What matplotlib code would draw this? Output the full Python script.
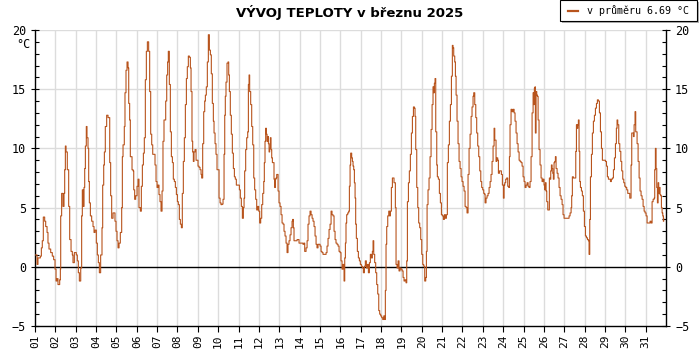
import numpy as np
import matplotlib
matplotlib.use("Agg")
import matplotlib.pyplot as plt
from matplotlib.ticker import MultipleLocator
from matplotlib.patches import Rectangle

# temperature trace for March 2025, hours since 1.3. 00:00
hours = [
    0, 2.4, 3.5, 5.5, 6.3, 7.5, 8.6, 9.8, 11.4, 12.6, 14.2, 15.3, 16.5, 18.5, 20.4, 22.0, 23.6,
    24.8, 25.9, 27.1, 29.1, 29.9, 30.3, 31.4, 33.0, 34.2, 35.0, 35.8, 36.6, 38.1, 39.7, 40.9, 42.5, 44.0, 44.8, 46.4,
    48.7, 49.9, 51.1, 52.3, 53.9, 55.0, 55.8, 57.0, 57.8, 58.6, 59.4, 60.5, 61.3, 62.5, 63.3, 64.1, 65.3, 66.8, 68.4, 69.6, 70.8,
    72.3, 73.5, 74.7, 75.9, 77.4, 79.0, 79.8, 81.0, 81.8, 82.9, 84.5, 86.1, 88.1, 89.2, 90.4, 92.0, 93.2, 94.3, 95.5,
    96.7, 97.9, 99.1, 100.6, 102.2, 103.0, 103.8, 105.3, 106.1, 107.3, 108.5, 109.7, 110.5, 111.6, 112.4, 113.6, 114.4, 115.6, 116.4, 117.5, 118.7,
    120.3, 121.5, 122.6, 124.2, 125.4, 126.6, 127.8, 128.9, 130.1, 131.3, 132.5, 134.0, 135.2, 136.4, 137.6, 138.8, 140.3, 141.5, 142.7,
    143.9, 145.0, 146.2, 147.4, 148.6, 149.8, 150.9, 152.1, 153.3, 154.1, 155.3, 156.4, 157.2, 158.4, 159.6, 160.8, 162.0, 163.1, 164.3, 165.5, 166.7,
    167.9, 169.0, 170.2, 171.4, 172.6, 173.7, 174.9, 176.1, 177.3, 178.5, 179.6, 180.8, 182.0, 183.2, 184.0, 185.1, 185.9, 186.7, 187.5, 188.7, 189.9,
    191.0, 192.2, 193.4, 194.6, 195.8, 196.5, 197.7, 198.9, 200.1, 200.9, 202.0, 203.2, 204.4, 205.6, 206.8, 207.9, 209.1, 210.3, 211.1,
    212.3, 213.4, 214.6, 215.8, 217.0, 218.2, 219.3, 220.5, 221.7, 222.9, 223.7, 224.4, 225.2, 226.4, 227.6, 228.4, 229.2, 230.3, 231.5, 232.7, 233.9,
    235.1, 236.2, 237.4, 239.8, 241.0, 242.1, 243.3, 244.5, 245.7, 246.5, 247.2, 248.4, 249.6, 250.8, 251.6, 252.4, 253.1, 254.3, 255.5, 256.7, 257.9,
    259.0, 260.2, 261.4, 262.6, 263.8, 264.9, 266.1, 267.3, 268.5, 269.7, 270.4, 271.2, 272.0, 272.8, 273.6, 274.4, 275.2, 276.0, 276.7, 277.5, 278.3,
    279.1, 279.9, 281.1, 281.8, 282.6, 283.4, 284.2, 285.0, 285.8, 286.6, 287.7, 288.9, 290.1, 291.3, 292.5, 293.6, 294.8, 296.0, 297.2, 298.3, 299.5,
    300.7, 301.9, 303.1, 303.8, 304.6, 305.4, 307.8, 309.0, 311.3, 314.9, 316.0, 317.2, 318.0, 319.6, 320.8, 321.9, 323.1, 324.3, 325.5, 326.7, 327.8,
    329.0, 330.2, 331.4, 332.5, 333.7, 334.9, 336.1, 337.3, 338.4, 339.6, 342.0, 343.2, 344.3, 345.5, 346.7, 347.9, 349.1, 350.2, 351.4, 352.6, 353.8,
    354.9, 356.1, 357.3, 358.5, 359.7, 360.8, 362.0, 363.2, 364.4, 365.2, 366.0, 366.7, 367.5, 368.7, 369.9, 370.7, 371.5, 372.2, 373.4, 374.2, 375.0,
    375.8, 376.6, 377.4, 378.1, 378.9, 380.1, 381.3, 382.5, 383.6, 384.8, 386.0, 387.2, 388.4, 389.5, 390.7, 391.9, 393.1, 394.3, 395.4, 396.6, 397.8,
    398.6, 399.4, 400.5, 401.7, 402.9, 404.1, 405.3, 406.4, 407.6, 408.8, 410.0, 411.2, 412.3, 413.1, 413.9, 414.7, 415.9, 417.1, 418.2, 419.0, 420.2,
    421.4, 422.6, 423.3, 424.1, 424.9, 425.7, 426.9, 428.1, 429.2, 430.4, 431.6, 432.8, 434.0, 435.1, 436.3, 437.5, 438.3, 439.1, 440.3, 441.4, 442.6,
    443.8, 445.0, 446.2, 447.3, 448.1, 448.9, 450.1, 451.3, 452.4, 453.6, 454.8, 456.0, 457.2, 458.3, 459.5, 460.7, 461.5, 462.3, 463.4, 464.6, 465.8,
    467.0, 468.2, 469.3, 470.1, 470.9, 471.7, 472.5, 473.7, 474.4, 475.6, 476.8, 478.0, 479.2, 480.3, 481.5, 482.7, 483.9, 485.1, 486.2, 487.4, 488.6,
    489.8, 491.0, 492.1, 492.9, 493.7, 494.9, 495.7, 496.5, 497.6, 498.8, 500.0, 501.2, 502.4, 503.5, 504.7, 505.9, 507.1, 508.3, 509.4, 510.6, 511.8,
    513.0, 514.2, 515.3, 516.5, 517.3, 518.5, 519.7, 520.8, 522.0, 523.2, 524.4, 525.6, 526.7, 527.9, 529.1, 530.3, 530.7, 531.8, 533.0, 534.2, 535.4,
    536.6, 537.7, 538.9, 540.1, 541.3, 542.1, 542.8, 543.6, 544.4, 545.6, 546.4, 547.6, 549.9, 551.1, 552.3, 553.1, 553.9, 555.0, 556.2, 557.4, 558.6,
    559.4, 560.1, 561.3, 562.5, 563.7, 564.9, 566.0, 567.2, 568.4, 569.6, 570.8, 571.9, 573.1, 574.3, 575.5, 576.7, 577.8, 579.0, 580.2, 581.4, 582.5,
    583.7, 584.9, 586.1, 587.3, 588.1, 588.8, 589.6, 590.0, 590.8, 591.6, 592.4, 593.2, 594.3, 595.5, 596.7, 597.9, 599.1, 600.2, 601.0, 601.8, 602.6,
    603.4, 604.6, 605.7, 606.5, 607.3, 608.1, 608.9, 609.7, 610.5, 611.2, 612.0, 612.8, 613.6, 614.4, 615.6, 616.7, 617.9, 619.1, 620.3, 621.5, 622.6,
    623.8, 628.5, 629.7, 630.9, 632.1, 632.8, 633.6, 634.8, 636.0, 636.8, 637.6, 638.4, 639.2, 640.0, 640.7, 641.5, 642.3, 643.1, 644.3, 645.4, 646.6,
    647.8, 649.0, 650.2, 651.4, 652.5, 653.3, 654.1, 654.9, 656.1, 657.2, 658.4, 659.6, 660.8, 662.0, 663.1, 664.3, 665.5, 666.7, 667.9, 669.0, 671.4,
    672.6, 673.8, 674.9, 676.1, 677.3, 678.5, 679.6, 680.8, 682.0, 683.2, 684.4, 685.5, 686.3, 687.1, 688.3, 689.5, 690.7, 691.8, 693.0, 694.2, 695.4,
    696.5, 697.7, 698.9, 700.1, 701.3, 702.0, 702.8, 703.6, 704.8, 705.6, 706.4, 707.5, 708.3, 709.1, 709.9, 711.1, 712.3, 713.4, 714.6, 715.8, 717.0,
    718.2, 719.3, 720.5, 721.7, 724.1, 725.2, 726.4, 727.6, 728.8, 730.0, 730.7, 731.5, 732.3, 733.1, 733.9, 734.7, 735.4, 736.2, 737.0, 737.8, 738.6,
    739.4, 740.2, 740.9, 741.3,
]
temps = [
    1.0, 0.2, 0.75, 0.75, 0.9, 1.6, 2.2, 4.2, 3.85, 3.4, 2.9, 2.0, 1.5, 1.2, 0.9, 0.6, -0.2,
    -1.2, -1.0, -1.5, -1.1, -0.2, 4.3, 6.2, 5.1, 6.2, 8.2, 10.2, 9.7, 8.2, 5.1, 2.3, 1.3, 1.0, 0.35, 1.2,
    1.0, 0.5, -0.5, -1.2, -0.1, 4.3, 6.5, 5.1, 6.7, 8.3, 10.2, 11.85, 10.9, 10.0, 7.2, 5.4, 4.3, 3.85, 3.4, 2.9, 3.1,
    2.0, 1.0, 0.35, -0.5, 1.0, 3.3, 6.9, 8.6, 9.7, 11.85, 12.8, 12.6, 8.8, 6.0, 4.1, 4.55, 4.55, 3.85, 3.0,
    2.2, 1.6, 2.0, 2.9, 5.0, 9.3, 10.3, 11.85, 14.7, 16.6, 17.3, 16.8, 13.8, 12.4, 9.3, 9.3, 8.2, 8.1, 6.5, 5.7, 6.0,
    6.8, 7.4, 5.0, 4.7, 6.8, 8.6, 9.6, 10.9, 15.8, 18.2, 19.0, 18.2, 14.8, 11.2, 10.3, 9.5, 9.5, 8.6, 7.2,
    6.7, 6.9, 6.1, 5.5, 4.7, 6.4, 10.6, 12.4, 12.4, 14.0, 16.2, 17.3, 18.2, 15.4, 11.4, 9.3, 8.8, 7.4, 7.2, 6.7, 6.1,
    5.5, 5.25, 4.0, 3.6, 3.3, 6.2, 8.9, 10.9, 13.7, 15.9, 16.9, 17.8, 17.7, 16.8, 14.8, 10.6, 9.7, 8.9, 9.7, 9.9, 9.0,
    9.0, 8.5, 8.4, 8.2, 7.8, 7.5, 10.4, 13.1, 14.0, 14.5, 15.2, 17.3, 19.6, 18.3, 17.9, 16.3, 13.8, 12.3, 11.3,
    10.4, 9.5, 8.2, 8.2, 5.8, 5.4, 5.25, 5.3, 5.7, 9.5, 12.8, 14.4, 15.6, 17.2, 17.3, 16.2, 14.8, 12.8, 11.2, 9.6, 8.3,
    7.6, 7.4, 6.9, 6.9, 6.5, 5.8, 5.1, 4.1, 5.0, 5.8, 8.1, 9.9, 10.9, 11.4, 15.4, 16.2, 14.8, 13.7, 11.85, 10.3, 7.5,
    6.5, 5.7, 4.8, 5.1, 4.7, 3.7, 4.1, 5.25, 6.2, 7.2, 8.8, 10.6, 11.7, 11.2, 10.6, 11.0, 10.4, 9.7, 10.0, 10.9, 9.9,
    9.2, 8.8, 8.8, 7.4, 6.7, 7.4, 7.5, 7.8, 7.8, 6.4, 5.4, 5.1, 4.4, 3.7, 3.6, 3.0, 2.6, 2.0, 1.2, 1.9, 2.2,
    2.7, 3.3, 3.85, 4.0, 3.3, 2.2, 2.2, 2.3, 2.0, 2.0, 1.9, 2.0, 1.3, 1.6, 2.2, 3.6, 4.3, 4.7, 4.4, 4.1, 3.85,
    3.4, 2.6, 1.9, 1.6, 1.9, 1.9, 1.75, 1.3, 1.2, 1.05, 1.05, 1.2, 1.75, 2.4, 3.15, 3.6, 4.7, 4.4, 4.3, 3.0, 2.3,
    2.0, 1.9, 1.75, 1.3, 1.2, 0.5, -0.2, 0.2, -1.2, 0.75, 2.0, 3.7, 4.4, 4.55, 4.7, 6.8, 8.6, 9.6, 9.2, 8.9, 8.5,
    8.2, 7.1, 5.8, 3.6, 2.4, 1.3, 0.75, 0.5, 0.2, 0.05, -0.1, -0.5, 0.05, 0.5, -0.1, 0.2, -0.5, 0.35, 1.05, 0.75, 1.3,
    2.2, 1.05, 0.35, -0.5, -1.5, -2.3, -3.7, -4.0, -4.15, -4.3, -4.45, -4.15, -4.45, -2.0, 1.9, 3.4, 4.3, 4.7, 4.3, 4.7, 6.7,
    7.5, 7.5, 7.1, 7.1, 5.0, 0.2, -0.1, 0.5, -0.35, -0.1, -0.2, -0.35, -0.9, -1.2, -1.1, -1.35, 0.5, 5.5, 7.1, 8.1, 9.5,
    11.3, 12.7, 13.5, 13.4, 12.7, 9.9, 6.7, 5.0, 3.7, 3.3, 2.3, 1.05, 0.2, 0.05, -1.2, -0.9, 1.3, 5.25, 6.5, 7.5, 9.3,
    11.6, 13.7, 15.2, 14.7, 15.5, 15.9, 11.4, 8.6, 7.6, 7.4, 6.2, 5.4, 4.4, 4.3, 4.0, 4.4, 4.1, 4.4, 8.8, 10.3, 12.3,
    13.7, 16.1, 18.7, 18.5, 17.8, 17.3, 16.1, 14.5, 12.3, 10.4, 8.9, 8.3, 7.6, 7.2, 6.8, 6.4, 5.1, 5.0, 4.55, 7.8, 10.0,
    11.2, 12.7, 13.5, 14.4, 14.7, 13.7, 12.6, 11.3, 10.2, 9.3, 8.1, 7.2, 6.7, 6.5, 6.2, 6.1, 5.4, 5.8, 6.0, 6.2, 6.7,
    7.2, 7.8, 8.9, 10.2, 11.7, 10.7, 10.7, 8.9, 9.2, 9.0, 7.9, 8.1, 7.8, 6.9, 5.8, 6.9, 7.1, 7.4, 7.5, 6.8, 6.7,
    9.3, 12.0, 13.3, 13.1, 13.3, 13.0, 12.3, 11.3, 10.4, 9.7, 9.0, 8.9, 8.8, 8.5, 7.6, 7.2, 6.7, 6.9, 7.1, 6.8, 6.7,
    7.2, 9.3, 13.0, 14.7, 13.7, 15.1, 15.2, 11.3, 14.8, 14.5, 14.4, 12.4, 9.9, 8.6, 7.5, 7.2, 7.4, 6.9, 6.5, 7.1, 6.4,
    5.5, 4.8, 4.8, 7.5, 7.4, 8.1, 8.6, 8.3, 7.9, 7.4, 8.8, 8.9, 9.3, 8.3, 7.9, 7.5, 6.7, 6.0, 5.7, 5.25, 4.4,
    4.1, 4.1, 4.3, 4.55, 5.0, 6.0, 7.6, 7.5, 7.5, 7.5, 9.75, 12.0, 11.7, 12.0, 12.4, 9.75, 7.2, 6.7, 6.4, 6.0, 4.7,
    3.4, 2.6, 2.45, 2.3, 2.2, 1.05, 4.0, 7.6, 9.5, 11.3, 12.3, 12.8, 13.4, 13.8, 14.1, 14.0, 13.0, 11.4, 10.0, 9.0, 9.0,
    8.9, 8.5, 7.6, 7.4, 7.4, 7.2, 7.4, 7.5, 8.2, 9.2, 10.4, 11.7, 12.4, 12.0, 10.4, 9.75, 8.9, 8.1, 7.4, 7.1, 6.8,
    6.7, 6.5, 6.2, 6.2, 5.8, 5.8, 8.6, 11.3, 11.3, 11.0, 12.0, 13.1, 11.4, 11.4, 10.4, 8.9, 7.5, 6.4, 6.0, 5.7, 5.1,
    4.7, 4.55, 4.3, 3.7, 3.7, 3.85, 3.7, 5.5, 5.7, 5.8, 8.2, 10.0, 8.3, 6.7, 5.4, 7.1, 6.2, 6.7, 6.1, 6.0, 5.0,
    4.55, 4.3, 3.85, 4.1,
]

day_labels = ["%02d" % d for d in range(1, 32)]
avg_temp = 6.69
title = "VÝVOJ TEPLOTY v březnu 2025"

line_color = "#b8541d"
grid_color = "#dcdcdc"

fig = plt.figure(figsize=(7, 3.5), dpi=100)
ax = fig.add_axes([35 / 700, 24 / 350, 631 / 700, 296 / 350])

ax.plot(hours, temps, color=line_color, lw=0.8, zorder=3, drawstyle="steps-post")
ax.axhline(0, color="black", lw=1, zorder=2)

ax.set_xlim(0, 744)
ax.set_ylim(-5, 20)

# day grid + labels
day_ticks = np.arange(0, 744, 24)
ax.set_xticks(day_ticks)
ax.set_xticklabels(day_labels, rotation=90, fontsize=8, family="DejaVu Sans Mono")
for t in day_ticks[1:]:
    ax.axvline(t, color=grid_color, lw=1, zorder=1)
for v in [5, 10, 15, 20]:
    ax.axhline(v, color=grid_color, lw=1, zorder=1)

ax.yaxis.set_major_locator(MultipleLocator(5))
ax.yaxis.set_minor_locator(MultipleLocator(1))
ax.tick_params(axis="y", which="major", direction="inout", length=6, width=0.8,
               left=True, right=True, labelleft=True, labelright=True, labelsize=8.5)
ax.tick_params(axis="y", which="minor", direction="in", length=3, width=0.8,
               left=True, right=True)
ax.tick_params(axis="x", direction="out", length=4, width=0.8, pad=2)
for lbl in ax.get_yticklabels():
    lbl.set_family("DejaVu Sans Mono")

ax.spines["top"].set_visible(False)
for s in ["left", "right", "bottom"]:
    ax.spines[s].set_linewidth(1)

fig.text(30 / 700, 1 - 44 / 350, "°C", ha="right", va="center", fontsize=8.5,
         family="DejaVu Sans Mono")
fig.text(350 / 700, 1 - 12 / 350, title, ha="center", va="center",
         fontsize=9.5, fontweight="bold")

# legend box top right with shadow
shadow = Rectangle((562 / 700, 1 - 23 / 350), 137 / 700, 21 / 350,
                   transform=fig.transFigure, facecolor="#b0b0b0", edgecolor="none")
box = Rectangle((560 / 700, 1 - 21 / 350), 137 / 700, 21 / 350,
                transform=fig.transFigure, facecolor="white", edgecolor="black", lw=0.8)
fig.patches.extend([shadow, box])
fig.lines.append(plt.Line2D([568 / 700, 578 / 700], [1 - 11 / 350, 1 - 11 / 350],
                            transform=fig.transFigure, color=line_color, lw=1.6))
fig.text(587 / 700, 1 - 11 / 350, "v průměru %.2f °C" % avg_temp, ha="left", va="center",
         fontsize=7.2, family="DejaVu Sans Mono")

fig.savefig("out.png", dpi=100)
